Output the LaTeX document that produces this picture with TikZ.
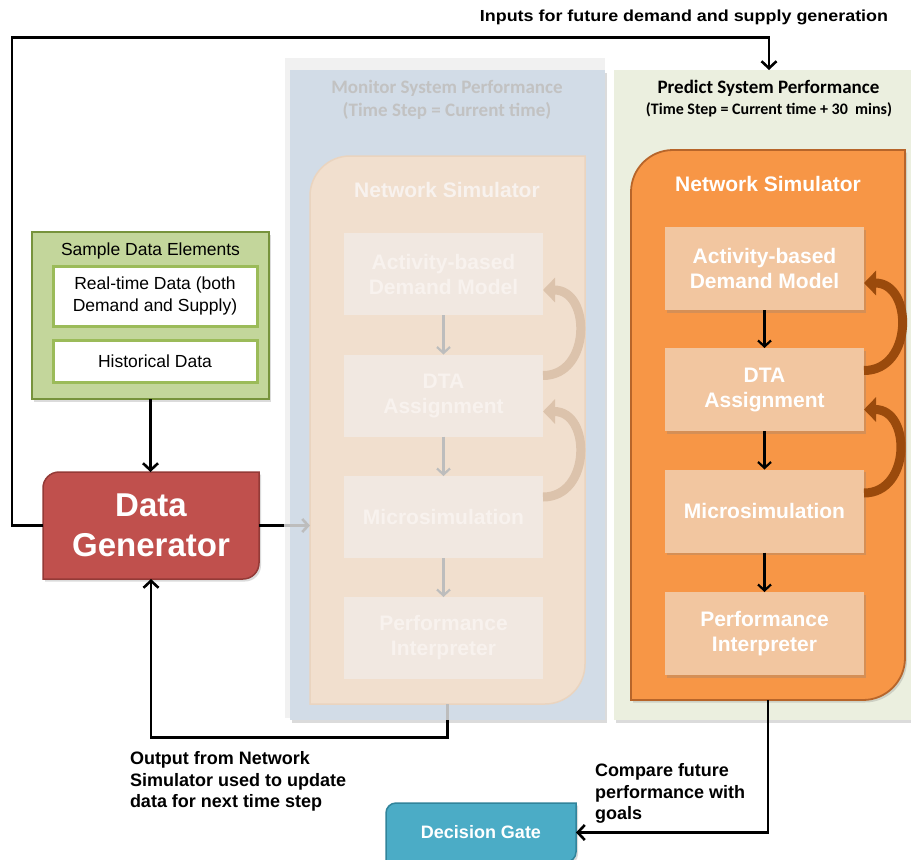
\documentclass[tikz,border=0pt]{standalone}
\usepackage{fontspec}
\setmainfont{Liberation Sans}
\newfontfamily\carlito{Carlito}
\newfontfamily\widefont[FakeStretch=1.12]{Liberation Sans}
\usetikzlibrary{arrows.meta,shadows}
\definecolor{ovgray}{HTML}{F1F1F1}
\definecolor{monblue}{HTML}{D2DCE7}
\definecolor{fsimfill}{HTML}{F1DFCE}
\definecolor{fsimdraw}{HTML}{EAD4BF}
\definecolor{fboxfill}{HTML}{F1E8E1}
\definecolor{ftext}{HTML}{F8F2EE}
\definecolor{ftitle}{HTML}{C2C2C2}
\definecolor{farrow}{HTML}{BDBDBD}
\definecolor{farc}{HTML}{DCC3AC}
\definecolor{predbg}{HTML}{EBEFDF}
\definecolor{simorange}{HTML}{F79646}
\definecolor{simborder}{HTML}{B7652A}
\definecolor{peach}{HTML}{F2C6A0}
\definecolor{arcbrown}{HTML}{9A4A0C}
\definecolor{sdegreen}{HTML}{C3D69B}
\definecolor{sdeborder}{HTML}{77933C}
\definecolor{sdeinner}{HTML}{9BBB59}
\definecolor{dgred}{HTML}{C0504D}
\definecolor{dgborder}{HTML}{943A37}
\definecolor{teal}{HTML}{4BACC6}
\definecolor{tealborder}{HTML}{31849B}
% shape with rounded top-left and bottom-right corners
\newcommand\tlbr[6]{%
  \path[#1] ({#2},{#3+#6}) .. controls ({#2},{#3+0.448*#6}) and ({#2+0.448*#6},{#3}) .. ({#2+#6},{#3})
    -- ({#4},{#3}) -- ({#4},{#5-#6})
    .. controls ({#4},{#5-0.448*#6}) and ({#4-0.448*#6},{#5}) .. ({#4-#6},{#5})
    -- ({#2},{#5}) -- cycle;}
\begin{document}
\begin{tikzpicture}[x=1pt,y=-1pt,
  every node/.style={inner sep=0pt,outer sep=0pt},
  shad/.style={drop shadow={opacity=.28,shadow xshift=2pt,shadow yshift=-2.5pt}},
  pbox/.style={fill=peach,minimum width=199pt,minimum height=83pt,text=white,align=center,
    font=\bfseries\fontsize{21}{25}\selectfont,shad},
  fbox/.style={fill=fboxfill,minimum width=199pt,minimum height=82pt,text=ftext,align=center,
    font=\bfseries\fontsize{21}{25}\selectfont},
  conn/.style={line width=2.6pt,draw=black,-{Straight Barb[length=7pt,width=15pt]}},
  inconn/.style={line width=2.2pt,draw=black,-{Straight Barb[length=6pt,width=13pt]}},
  finconn/.style={line width=2.2pt,draw=farrow,-{Straight Barb[length=6pt,width=13pt]}},
  curv/.style={line width=9pt,draw=arcbrown,-{Triangle[length=12pt,width=24pt]}},
  fcurv/.style={line width=9pt,draw=farc,-{Triangle[length=12pt,width=24pt]}},
  sdebox/.style={fill=white,draw=sdeinner,line width=3pt,minimum width=204pt,align=center,
    font=\fontsize{17.5}{22}\selectfont}
]
\useasboundingbox (0,0) rectangle (911,860);
\fill[white] (0,0) rectangle (911,860);

% ---------------- Monitor panel (faded) ----------------
\fill[ovgray] (285,58) rectangle (605,718);
\node[name=monpanel,fill=monblue,minimum width=315pt,minimum height=650pt,shad] at (447.5,395) {};
\node[name=montitle,text=ftitle,align=center,font=\carlito\bfseries\fontsize{19}{23}\selectfont]
  at (447,99.5) {Monitor System Performance\\(Time Step = Current time)};
\tlbr{fill=fsimfill,draw=fsimdraw,line width=1.5pt}{310}{156}{585}{704}{40}
\node[name=fsim,minimum width=275pt,minimum height=548pt] at (447.5,430) {};
\node[name=fsimlbl,text=ftext,font=\bfseries\fontsize{21}{25}\selectfont] at (447,190) {Network Simulator};
\node[fbox,name=fa1] at (443.5,274) {Activity-based\\Demand Model};
\node[fbox,name=fa2] at (443.5,395.5) {DTA\\Assignment};
\node[fbox,name=fa3] at (443.5,517) {Microsimulation};
\node[fbox,name=fa4] at (443.5,638) {Performance\\Interpreter};
\draw[finconn] (fa1.south) -- (fa2.north);
\draw[finconn] (fa2.south) -- (fa3.north);
\draw[finconn] (fa3.south) -- (fa4.north);
\draw[fcurv] ([yshift=20pt]fa2.east) to[out=0,in=0,looseness=1.45] ([yshift=-16pt]fa1.east);
\draw[fcurv] ([yshift=20pt]fa3.east) to[out=0,in=0,looseness=1.45] ([yshift=-16pt]fa2.east);

% ---------------- Predict panel ----------------
\node[name=predpanel,fill=predbg,minimum width=297pt,minimum height=650pt,shad] at (762.5,395) {};
\node[name=pt1,font=\carlito\bfseries\fontsize{19}{23}\selectfont] at (768.5,88) {Predict System Performance};
\node[name=pt2,font=\carlito\bfseries\fontsize{16}{19}\selectfont] at (769,110) {(Time Step = Current time + 30\ \ mins)};
\tlbr{fill=simorange,draw=simborder,line width=1.8pt,shad}{631}{150}{905}{700}{42}
\node[name=psim,minimum width=274pt,minimum height=550pt] at (768,425) {};
\node[name=psimlbl,text=white,font=\bfseries\fontsize{21}{25}\selectfont] at (768,184) {Network Simulator};
\node[pbox,name=a1] at (764.5,268.5) {Activity-based\\Demand Model};
\node[pbox,name=a2] at (764.5,389.5) {DTA\\Assignment};
\node[pbox,name=a3] at (764.5,511) {Microsimulation};
\node[pbox,name=a4] at (764.5,633.5) {Performance\\Interpreter};
\draw[inconn] (a1.south) -- (a2.north);
\draw[inconn] (a2.south) -- (a3.north);
\draw[inconn] (a3.south) -- (a4.north);
\draw[curv] ([yshift=19pt]a2.east) to[out=0,in=0,looseness=1.45] ([yshift=-14.5pt]a1.east);
\draw[curv] ([yshift=18pt]a3.east) to[out=0,in=0,looseness=1.45] ([yshift=-20pt]a2.east);

% ---------------- Sample data elements ----------------
\node[name=sde,fill=sdegreen,draw=sdeborder,line width=2.5pt,minimum width=237pt,minimum height=167pt,shad] at (150.5,315.5) {};
\node[name=sdetitle,font=\fontsize{17.5}{22}\selectfont] at (150.5,251) {Sample Data Elements};
\node[sdebox,name=rt,minimum height=60pt] at (155,296) {Real-time Data (both\\Demand and Supply)};
\node[sdebox,name=hist,minimum height=42pt] at (155,361) {Historical Data};

% ---------------- Data generator ----------------
\tlbr{fill=dgred,draw=dgborder,line width=1.5pt,shad}{43}{472}{259}{579}{16}
\node[name=dg,minimum width=216pt,minimum height=107pt,text=white,align=center,
  font=\bfseries\fontsize{33}{40}\selectfont] at (151,525.5) {Data\\Generator};

% ---------------- Decision gate ----------------
\tlbr{fill=teal,draw=tealborder,line width=1.5pt,shad}{386}{803}{576}{862}{10}
\node[name=dgate,minimum width=190pt,minimum height=59pt,text=white,
  font=\bfseries\fontsize{18}{22}\selectfont] at (481,832.5) {Decision Gate};

% ---------------- Connectors ----------------
\coordinate (toparrow) at (769,70);
\coordinate (leftturn) at (12,37.5);
\draw[conn] (dg.west) -| (leftturn) -| (toparrow);
\node[name=toplbl,font=\widefont\bfseries\fontsize{16}{19}\selectfont] at (684,17) {Inputs for future demand and supply generation};

\draw[conn] (sde.south) -- (sde.south |- dg.north);

\coordinate (dgout) at (284,525.5);
\draw[line width=2.6pt] (dg.east) -- (dgout);
\draw[finconn,line width=2.6pt] (dgout) -- (fsim.west |- dg.east);

\coordinate (fbA) at (447.5,720);
\coordinate (fbB) at (447.5,737.5);
\draw[line width=2.6pt,draw=farrow] (fsim.south) -- (fbA);
\draw[conn] (fbA) -- (fbB) -| (dg.south);
\node[name=outlbl,anchor=west,align=left,font=\bfseries\fontsize{18}{21.5}\selectfont] at (130,781.5)
  {Output from Network\\Simulator used to update\\data for next time step};

\draw[conn] (psim.south) |- (dgate.east);
\node[name=cmplbl,anchor=west,align=left,font=\bfseries\fontsize{18}{21.5}\selectfont] at (595,793.5)
  {Compare future\\performance with\\goals};
\end{tikzpicture}
\end{document}
